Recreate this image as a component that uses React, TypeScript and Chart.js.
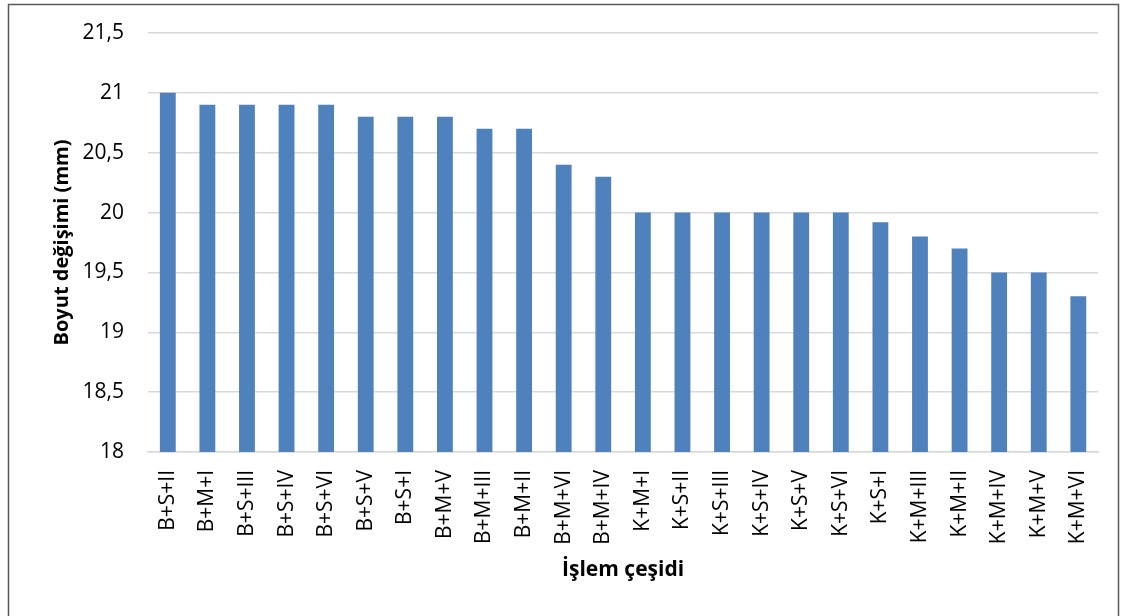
import React, { useEffect, useRef } from "react";
import { Chart, registerables } from "chart.js";

Chart.register(...registerables);

const categories = [
  "B+S+II", "B+M+I", "B+S+III", "B+S+IV", "B+S+VI", "B+S+V", "B+S+I", "B+M+V",
  "B+M+III", "B+M+II", "B+M+VI", "B+M+IV", "K+M+I", "K+S+II", "K+S+III", "K+S+IV",
  "K+S+V", "K+S+VI", "K+S+I", "K+M+III", "K+M+II", "K+M+IV", "K+M+V", "K+M+VI",
];
const values = [
  21, 20.9, 20.9, 20.9, 20.9, 20.8, 20.8, 20.8,
  20.7, 20.7, 20.4, 20.3, 20, 20, 20, 20,
  20, 20, 19.92, 19.8, 19.7, 19.5, 19.5, 19.3,
];
const yMin = 18;
const yMax = 21.5;
const yStep = 0.5;
const xTitle = "İşlem çeşidi";
const yTitle = "Boyut değişimi (mm)";

const FONT = "'Open Sans', 'Noto Sans', sans-serif";

const borderPlugin = {
  id: "outerBorder",
  afterDraw(chart: any) {
    const ctx = chart.ctx;
    ctx.save();
    ctx.strokeStyle = "#595959";
    ctx.lineWidth = 1.5;
    ctx.strokeRect(8.5, 4.5, 1110, 700);
    ctx.restore();
  },
};

export default function App() {
  const ref = useRef<HTMLCanvasElement | null>(null);
  useEffect(() => {
    if (!ref.current) return;
    const chart = new Chart(ref.current, {
      type: "bar",
      data: {
        labels: categories,
        datasets: [
          {
            data: values,
            backgroundColor: "#4f81bd",
            borderWidth: 0,
            barPercentage: 0.4,
            categoryPercentage: 1,
          },
        ],
      },
      options: {
        animation: false,
        responsive: false,
        maintainAspectRatio: false,
        layout: { padding: { top: 33, right: 22, left: 0, bottom: 0 } },
        plugins: { legend: { display: false }, tooltip: { enabled: false } },
        scales: {
          x: {
            afterFit(scale: any) {
              scale.height = 164;
            },
            grid: { display: false, drawTicks: false },
            border: { display: true, color: "#d9d9d9", width: 1.5 },
            ticks: {
              color: "#000",
              font: { family: FONT, size: 21 },
              minRotation: 90,
              maxRotation: 90,
              padding: 18,
              autoSkip: false,
            },
            title: {
              display: true,
              text: xTitle,
              color: "#000",
              font: { family: FONT, size: 21, weight: "bold" },
              padding: { top: 0, bottom: 33 },
            },
          },
          y: {
            min: yMin,
            max: yMax,
            afterFit(scale: any) {
              scale.width = 148;
            },
            grid: {
              color: "#d9d9d9",
              lineWidth: 1.5,
              drawTicks: true,
              tickLength: 20,
              tickColor: "rgba(0,0,0,0)",
            },
            border: { display: false },
            ticks: {
              stepSize: yStep,
              color: "#000",
              font: { family: FONT, size: 21 },
              padding: 4,
              callback: (v: any) => String(v).replace(".", ","),
            },
            title: {
              display: true,
              text: yTitle,
              color: "#000",
              font: { family: FONT, size: 20, weight: "bold" },
              padding: { top: 50, bottom: 0 },
            },
          },
        },
      },
      plugins: [borderPlugin],
    });
    return () => chart.destroy();
  }, []);
  return (
    <div style={{ position: "absolute", left: 0, top: 0, width: 1122, height: 616, background: "#fff" }}>
      <canvas ref={ref} width={1122} height={616} style={{ display: "block" }} />
    </div>
  );
}
